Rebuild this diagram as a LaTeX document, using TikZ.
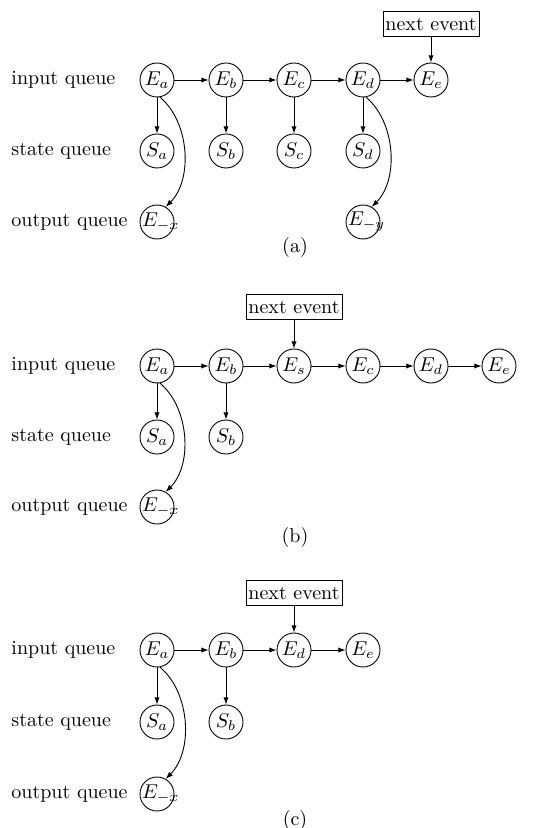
\documentclass[tikz,border=0pt]{standalone}
\usetikzlibrary{arrows.meta}
% wide event labels keep the circle at its normal size and run past its right edge
\newcommand{\wide}[1]{\makebox[11pt][l]{\hspace*{-2pt}$#1$}}
\begin{document}
\begin{tikzpicture}[x=0.5pt,y=-0.5pt,
  line width=0.45pt,
  ev/.style={circle,draw,minimum size=17pt,inner sep=0pt},
  qlabel/.style={anchor=west,inner sep=0pt},
  nxt/.style={draw,inner xsep=1.2pt,inner ysep=3pt},
  subcap/.style={inner sep=0pt},
  arr/.style={-{Latex[length=3.6pt,width=2.6pt]}},
  outarr/.style={arr,out=-40,in=45,looseness=0.9}]
\useasboundingbox (0,0) rectangle (545,828);

% ---------- (a) ----------
\node[qlabel] (la1) at (11,80)  {input queue};
\node[qlabel] (la2) at (11,151) {state queue};
\node[qlabel] (la3) at (11,222) {output queue};
\node[ev] (aEa) at (157,80) {$E_a$};
\node[ev] (aEb) at (226,80) {$E_b$};
\node[ev] (aEc) at (294,80) {$E_c$};
\node[ev] (aEd) at (363,80) {$E_d$};
\node[ev] (aEe) at (431,80) {$E_e$};
\node[ev] (aSa) at (157,151) {$S_a$};
\node[ev] (aSb) at (226,151) {$S_b$};
\node[ev] (aSc) at (294,151) {$S_c$};
\node[ev] (aSd) at (363,151) {$S_d$};
\node[ev] (aOx) at (157,222) {\wide{E_{-x}}};
\node[ev] (aOy) at (363,222) {\wide{E_{-y}}};
\node[nxt] (aNx) at (431,24) {next event};
\node[subcap] (capa) at (295,248) {(a)};
\draw[arr] (aEa) -- (aEb);
\draw[arr] (aEb) -- (aEc);
\draw[arr] (aEc) -- (aEd);
\draw[arr] (aEd) -- (aEe);
\draw[arr] (aEa) -- (aSa);
\draw[arr] (aEb) -- (aSb);
\draw[arr] (aEc) -- (aSc);
\draw[arr] (aEd) -- (aSd);
\draw[arr] (aNx) -- (aEe);
\draw[outarr] (aEa.-80) to (aOx.60);
\draw[outarr] (aEd.-80) to (aOy.60);

% ---------- (b) ----------
\node[qlabel] (lb1) at (11,366) {input queue};
\node[qlabel] (lb2) at (11,437) {state queue};
\node[qlabel] (lb3) at (11,507) {output queue};
\node[ev] (bEa) at (157,366) {$E_a$};
\node[ev] (bEb) at (226,366) {$E_b$};
\node[ev] (bEs) at (294,366) {$E_s$};
\node[ev] (bEc) at (363,366) {$E_c$};
\node[ev] (bEd) at (431,366) {$E_d$};
\node[ev] (bEe) at (499,366) {$E_e$};
\node[ev] (bSa) at (157,437) {$S_a$};
\node[ev] (bSb) at (226,437) {$S_b$};
\node[ev] (bOx) at (157,507) {\wide{E_{-x}}};
\node[nxt] (bNx) at (294,307) {next event};
\node[subcap] (capb) at (295,537) {(b)};
\draw[arr] (bEa) -- (bEb);
\draw[arr] (bEb) -- (bEs);
\draw[arr] (bEs) -- (bEc);
\draw[arr] (bEc) -- (bEd);
\draw[arr] (bEd) -- (bEe);
\draw[arr] (bEa) -- (bSa);
\draw[arr] (bEb) -- (bSb);
\draw[arr] (bNx) -- (bEs);
\draw[outarr] (bEa.-80) to (bOx.60);

% ---------- (c) ----------
\node[qlabel] (lc1) at (11,650) {input queue};
\node[qlabel] (lc2) at (11,722) {state queue};
\node[qlabel] (lc3) at (11,794) {output queue};
\node[ev] (cEa) at (157,650) {$E_a$};
\node[ev] (cEb) at (226,650) {$E_b$};
\node[ev] (cEd) at (294,650) {$E_d$};
\node[ev] (cEe) at (363,650) {$E_e$};
\node[ev] (cSa) at (157,722) {$S_a$};
\node[ev] (cSb) at (226,722) {$S_b$};
\node[ev] (cOx) at (157,794) {\wide{E_{-x}}};
\node[nxt] (cNx) at (294,593) {next event};
\node[subcap] (capc) at (295,820) {(c)};
\draw[arr] (cEa) -- (cEb);
\draw[arr] (cEb) -- (cEd);
\draw[arr] (cEd) -- (cEe);
\draw[arr] (cEa) -- (cSa);
\draw[arr] (cEb) -- (cSb);
\draw[arr] (cNx) -- (cEd);
\draw[outarr] (cEa.-80) to (cOx.60);
\end{tikzpicture}
\end{document}
